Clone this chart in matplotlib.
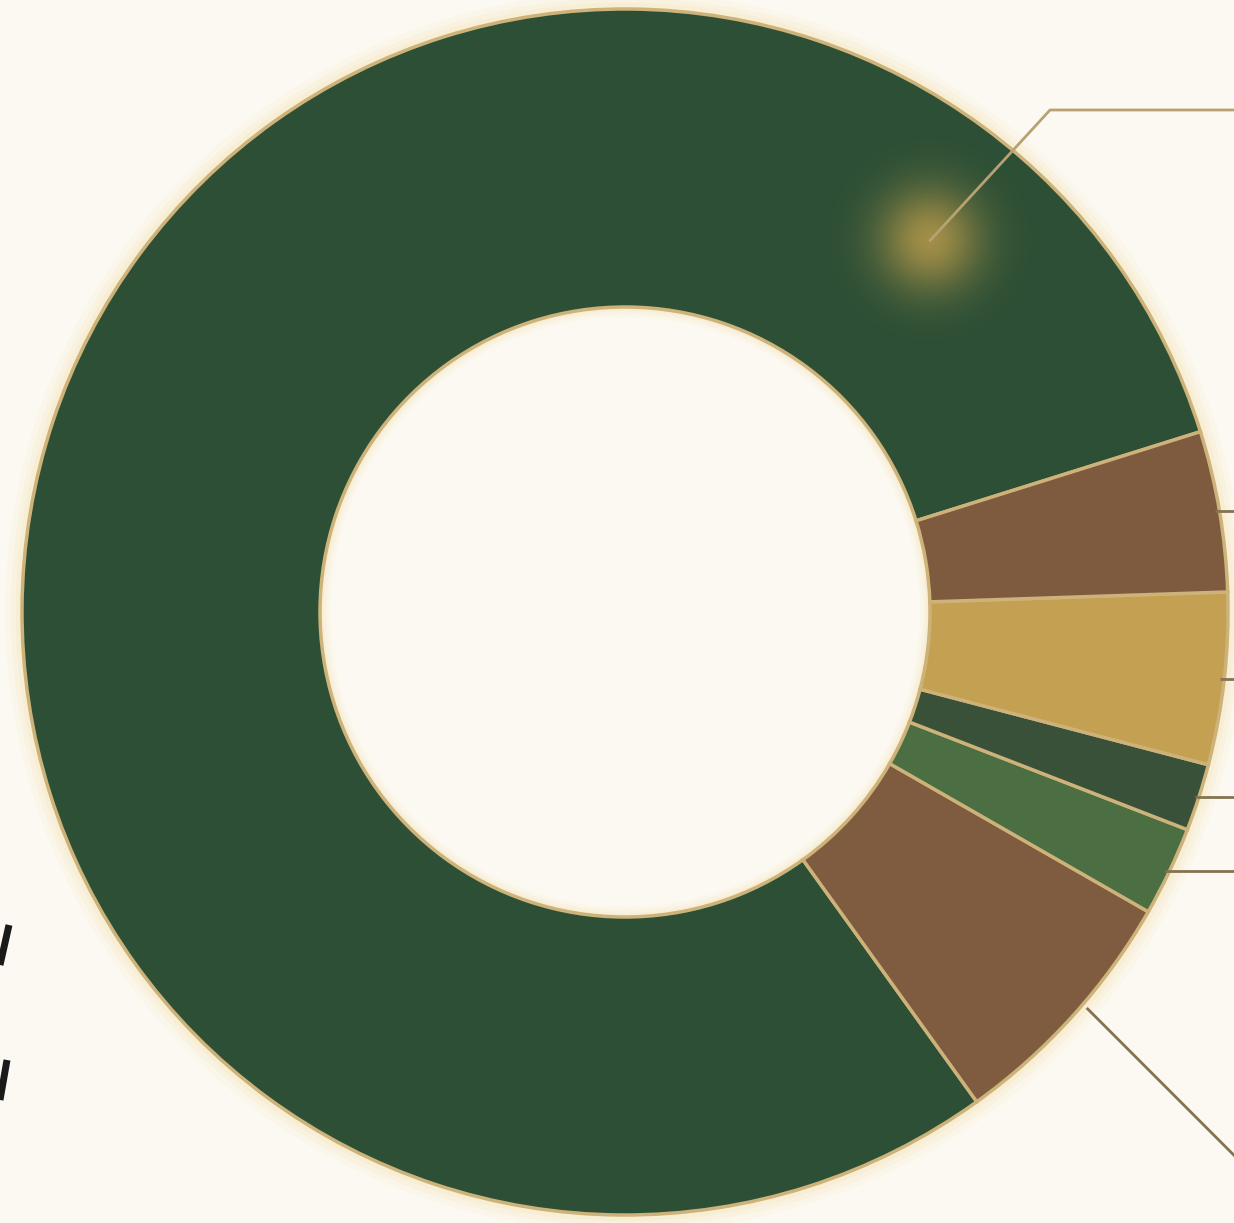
import numpy as np
import matplotlib
matplotlib.use("Agg")
import matplotlib.pyplot as plt

segments = ["main", "brown_low", "green", "dark_green", "gold", "brown_up"]
shares = [80.0, 6.8, 2.4, 1.8, 4.6, 4.3]
colors = ["#2c4f35", "#7f5b3f", "#4b6e43", "#3a5139", "#c4a052", "#7e5a3e"]

# drawn counterclockwise from this angle
start_angle = 17.4

bg = "#fcf9f2"
edge = "#cdb27a"
leader = "#857350"

fig = plt.figure(figsize=(12.34, 12.23), dpi=100, facecolor=bg)
ax = fig.add_axes([0, 0, 1, 1])
ax.set_facecolor(bg)

cx, cy = 625, 611
R = 603
width = 298

# soft halo round the outer and inner edge of the ring
for k, a in zip([24, 16, 9], [0.12, 0.18, 0.25]):
    ax.add_patch(plt.Circle((cx, cy), R, fill=False, ec="#f6e3b4",
                            alpha=a, lw=k))
    ax.add_patch(plt.Circle((cx, cy), R - width, fill=False, ec="#f6e3b4",
                            alpha=a, lw=k * 0.6))

wedges, _ = ax.pie(shares, colors=colors, startangle=start_angle,
                   counterclock=True, center=(cx, cy), radius=R, frame=True,
                   wedgeprops=dict(width=width, edgecolor=edge, linewidth=2.5))

# leader lines for the small segments: from the outer edge to the right border
for name, w in zip(segments[1:], wedges[1:]):
    mid = np.deg2rad((w.theta1 + w.theta2) / 2)
    x0 = cx + R * np.cos(mid)
    y0 = cy + R * np.sin(mid)
    if name == "brown_low":
        # steep one for the big brown piece below
        ax.plot([x0 + 14, 1240], [y0 + 8, y0 + 8 - (1240 - x0 - 14)],
                color=leader, lw=2, solid_capstyle="butt")
    else:
        ax.plot([x0 - 4, 1240], [y0, y0], color=leader, lw=2,
                solid_capstyle="butt", zorder=1)

# leader for the main segment, starting inside the ring with a glow
ang = np.deg2rad(50.6)
px, py = cx + 481 * np.cos(ang), cy + 481 * np.sin(ang)
gx = np.linspace(-100, 100, 201)
gxx, gyy = np.meshgrid(gx, gx)
glow = np.exp(-(gxx ** 2 + gyy ** 2) / (2 * 36 ** 2))
rgba = np.zeros(glow.shape + (4,))
rgba[..., :3] = matplotlib.colors.to_rgb("#c9a34e")
rgba[..., 3] = glow * 0.75
ax.imshow(rgba, extent=(px - 100, px + 100, py - 100, py + 100), zorder=3,
          interpolation="bilinear")
ax.plot([px, 1050, 1240], [py, 1113, 1113], color="#b8a274", lw=2, zorder=4)

# bits of cut-off lettering at the left border
ax.plot([0, 9], [1223 - 965, 1223 - 925], color="#1a1a1a", lw=5,
        solid_capstyle="butt")
ax.plot([0, 7], [1223 - 1100, 1223 - 1060], color="#1a1a1a", lw=5,
        solid_capstyle="butt")

ax.set_xlim(0, 1234)
ax.set_ylim(0, 1223)
ax.set_aspect("auto")
ax.axis("off")

fig.savefig("out.png", dpi=100, facecolor=bg)
